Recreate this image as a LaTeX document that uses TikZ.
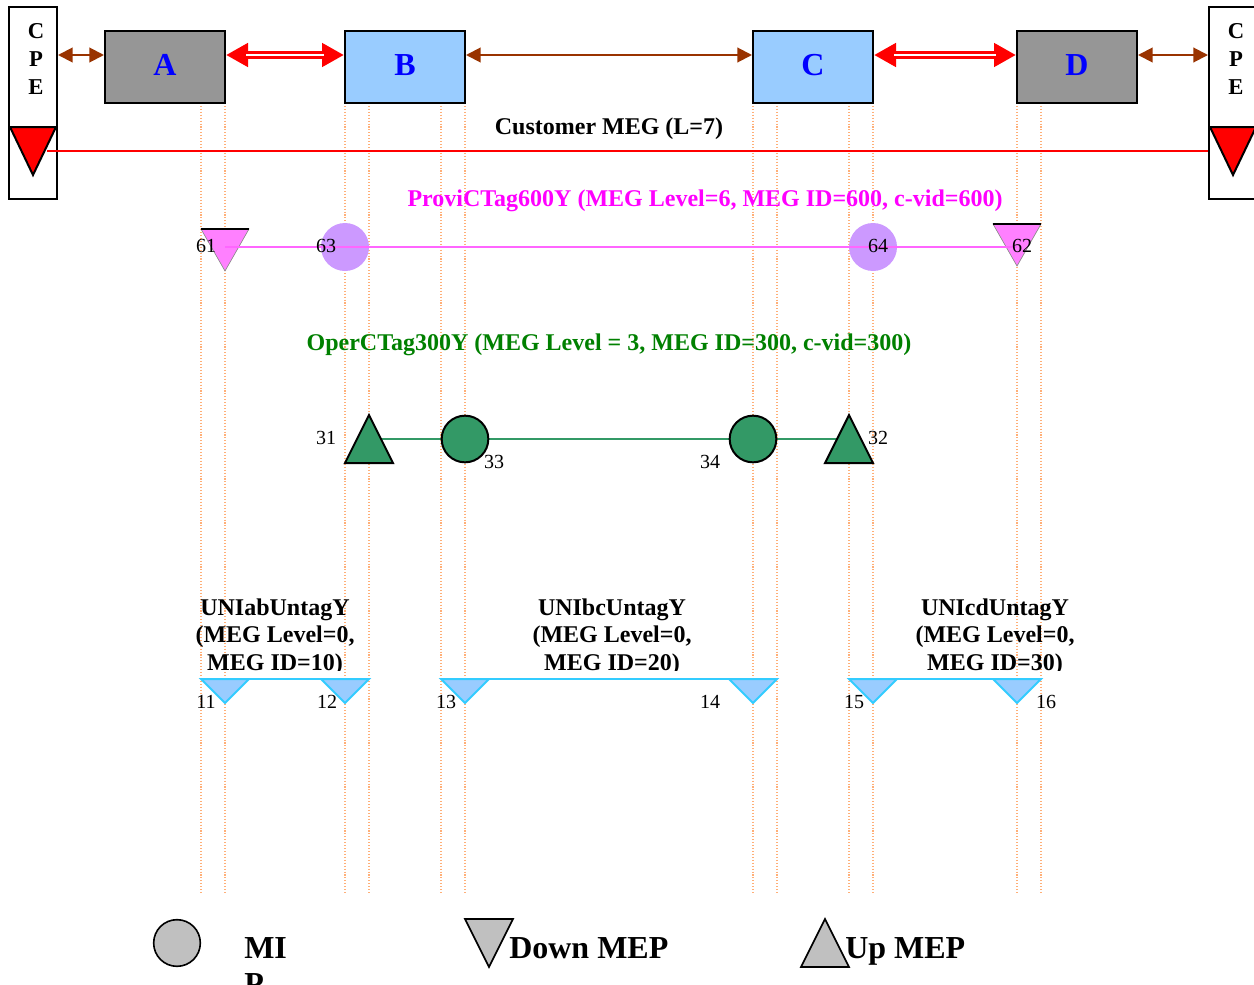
\documentclass[tikz,border=0pt]{standalone}
\usepackage{fontspec}
\setmainfont{Liberation Serif}
\usetikzlibrary{arrows.meta,calc}
\definecolor{boxgray}{HTML}{969696}
\definecolor{boxblue}{HTML}{99CCFF}
\definecolor{brownc}{HTML}{993300}
\definecolor{magtext}{HTML}{FF00FF}
\definecolor{magline}{HTML}{FF66FF}
\definecolor{pinkf}{HTML}{FF80FF}
\definecolor{lav}{HTML}{CC99FF}
\definecolor{seag}{HTML}{339966}
\definecolor{darkg}{HTML}{008000}
\definecolor{cyanl}{HTML}{33CCFF}
\definecolor{vdotc}{RGB}{255,175,120}
\definecolor{legg}{HTML}{C0C0C0}
\begin{document}
\begin{tikzpicture}[x=0.75pt,y=-0.75pt,
  nebox/.style={draw=black, line width=1.5pt, minimum width=90pt, minimum height=54pt, inner sep=0pt,
    font=\fontsize{24}{28}\selectfont\bfseries, text=blue},
  cpebox/.style={draw=black, line width=1.5pt, fill=white, minimum width=36pt, minimum height=144pt, inner sep=0pt},
  cpetext/.style={font=\fontsize{17}{21}\selectfont\bfseries, align=center, inner sep=0pt},
  brownarr/.style={draw=brownc, line width=1.5pt, {Triangle[length=11pt,width=11pt]}-{Triangle[length=11pt,width=11pt]}},
  redarr/.style={draw=red, line width=6pt, {Triangle[length=16.5pt,width=17pt]}-{Triangle[length=16.5pt,width=17pt]}},
  redgap/.style={draw=white, line width=2pt, shorten <=15pt, shorten >=15pt},
  vdot/.style={draw=vdotc, line width=0.8pt, dash pattern=on 0.8pt off 1.4pt},
  meglab/.style={font=\fontsize{18}{20.5}\selectfont\bfseries, inner sep=0pt, align=center},
  numlab/.style={font=\fontsize{15}{18}\selectfont, inner sep=0pt},
  leglab/.style={font=\fontsize{24}{26}\selectfont\bfseries, inner sep=0pt, anchor=base west},
  mipg/.style={circle, draw=black, line width=1.5pt, fill=seag, minimum size=35pt, inner sep=0pt},
  mipl/.style={circle, fill=lav, minimum size=36pt, inner sep=0pt},
  upg/.style={draw=black, line width=1.5pt, fill=seag},
  dnc/.style={draw=cyanl, line width=1.5pt, fill=boxblue}
]
\clip (0,0) rectangle (1254,985);
\fill[white] (0,0) rectangle (1254,985);

% dotted verticals
\foreach \x in {201,225,345,369,441,465,753,777,849,873,1017,1041}
  \draw[vdot] (\x,103) -- (\x,893);

% CPE boxes
\node[cpebox] (cpeL) at (33,103) {};
\node[cpebox] (cpeR) at (1233,103) {};
\draw[line width=1.5pt] (9,127) -- (57,127);
\draw[line width=1.5pt] (1209,127) -- (1257,127);
\filldraw[fill=red, draw=black, line width=1.5pt] (10,127) -- (56,127) -- (33,175) -- cycle;
\filldraw[fill=red, draw=black, line width=1.5pt] (1210,127) -- (1256,127) -- (1233,175) -- cycle;
\node[cpetext] (cpeLt) at (36,59) {C\\P\\E};
\node[cpetext] (cpeRt) at (1236,59) {C\\P\\E};

% NE boxes
\node[nebox, fill=boxgray] (A) at (165,67) {\raisebox{3pt}{A}};
\node[nebox, fill=boxblue] (B) at (405,67) {\raisebox{3pt}{B}};
\node[nebox, fill=boxblue] (C) at (813,67) {\raisebox{3pt}{C}};
\node[nebox, fill=boxgray] (D) at (1077,67) {\raisebox{3pt}{D}};

% arrows
\draw[brownarr] ($(cpeL.east |- A.west)+(0,-12)$) -- ($(A.west)+(0,-12)$);
\draw[redarr] ($(A.east)+(0,-12)$) -- ($(B.west)+(0,-12)$);
\draw[redgap] ($(A.east)+(0,-12)$) -- ($(B.west)+(0,-12)$);
\draw[brownarr] ($(B.east)+(0,-12)$) -- ($(C.west)+(0,-12)$);
\draw[redarr] ($(C.east)+(0,-12)$) -- ($(D.west)+(0,-12)$);
\draw[redgap] ($(C.east)+(0,-12)$) -- ($(D.west)+(0,-12)$);
\draw[brownarr] ($(D.east)+(0,-12)$) -- ($(cpeR.west |- D.east)+(0,-12)$);

% Customer MEG
\node[meglab] (custlab) at (609,129) {Customer MEG (L=7)};
\coordinate (mepL) at (47,151);
\draw[red, line width=1.5pt] (mepL) -- (cpeR.west |- mepL);

% Provider MEG level 6
\node[meglab, text=magtext] (provlab) at (705,201) {ProviCTag600Y (MEG Level=6, MEG ID=600, c-vid=600)};
\filldraw[fill=pinkf, draw=black!45, line width=0.5pt] (201,229) -- (249,229) -- (225,271) -- cycle;
\draw[line width=1pt] (201,229) -- (249,229);
\filldraw[fill=pinkf, draw=black!45, line width=0.5pt] (993,224) -- (1041,224) -- (1017,266) -- cycle;
\draw[line width=1pt] (993,224) -- (1041,224);
\coordinate (d61) at (225,247);
\coordinate (d62) at (1017,247);
\node[mipl] (m63) at (345,247) {};
\node[mipl] (m64) at (873,247) {};
\draw[magline, line width=1.8pt] (d61) -- (d62);
\node[numlab] (l61) at (206,246) {61};
\node[numlab] (l63) at (326,246) {63};
\node[numlab] (l64) at (878,246) {64};
\node[numlab] (l62) at (1022,246) {62};

% Operator MEG level 3
\node[meglab, text=darkg] (operlab) at (609,345) {OperCTag300Y (MEG Level = 3, MEG ID=300, c-vid=300)};
\coordinate (u31) at (369,439);
\coordinate (u32) at (849,439);
\draw[seag, line width=1.5pt] (u31) -- (u32);
\filldraw[upg] (345,463) -- (393,463) -- (369,415) -- cycle;
\filldraw[upg] (825,463) -- (873,463) -- (849,415) -- cycle;
\node[mipg] (m33) at (465,439) {};
\node[mipg] (m34) at (753,439) {};
\node[numlab] (l31) at (326,438) {31};
\node[numlab] (l33) at (494,462) {33};
\node[numlab] (l34) at (710,462) {34};
\node[numlab] (l32) at (878,438) {32};

% UNI MEGs level 0
\begin{scope}
\clip (150,580) rectangle (1100,670);
\node[meglab] (uniab) at (275,637) {UNIabUntagY\\(MEG Level=0,\\MEG ID=10)};
\node[meglab] (unibc) at (612,637) {UNIbcUntagY\\(MEG Level=0,\\MEG ID=20)};
\node[meglab] (unicd) at (995,637) {UNIcdUntagY\\(MEG Level=0,\\MEG ID=30)};
\end{scope}
\coordinate (c11) at (201,679);
\coordinate (c12) at (369,679);
\coordinate (c13) at (441,679);
\coordinate (c14) at (777,679);
\coordinate (c15) at (849,679);
\coordinate (c16) at (1041,679);
\draw[cyanl, line width=1.5pt] (c11) -- (c12);
\draw[cyanl, line width=1.5pt] (c13) -- (c14);
\draw[cyanl, line width=1.5pt] (c15) -- (c16);
\filldraw[dnc] (201,679) -- (249,679) -- (225,703) -- cycle;
\filldraw[dnc] (321,679) -- (369,679) -- (345,703) -- cycle;
\filldraw[dnc] (441,679) -- (489,679) -- (465,703) -- cycle;
\filldraw[dnc] (729,679) -- (777,679) -- (753,703) -- cycle;
\filldraw[dnc] (849,679) -- (897,679) -- (873,703) -- cycle;
\filldraw[dnc] (993,679) -- (1041,679) -- (1017,703) -- cycle;
\node[numlab] (l11) at (206,702) {11};
\node[numlab] (l12) at (327,702) {12};
\node[numlab] (l13) at (446,702) {13};
\node[numlab] (l14) at (710,702) {14};
\node[numlab] (l15) at (854,702) {15};
\node[numlab] (l16) at (1046,702) {16};

% legend
\node[circle, draw=black, line width=1.2pt, fill=legg, minimum size=35pt, inner sep=0pt] (legmip) at (177,943) {};
\node[leglab] (legmipt) at (244,958) {MI};
\node[leglab] (legmipt2) at (244,994) {P};
\filldraw[draw=black, line width=1.2pt, fill=legg] (465,919) -- (513,919) -- (489,967) -- cycle;
\node[leglab] (legdown) at (509,958) {Down MEP};
\filldraw[draw=black, line width=1.2pt, fill=legg] (801,967) -- (849,967) -- (825,919) -- cycle;
\node[leglab] (legup) at (845,958) {Up MEP};
\end{tikzpicture}
\end{document}
